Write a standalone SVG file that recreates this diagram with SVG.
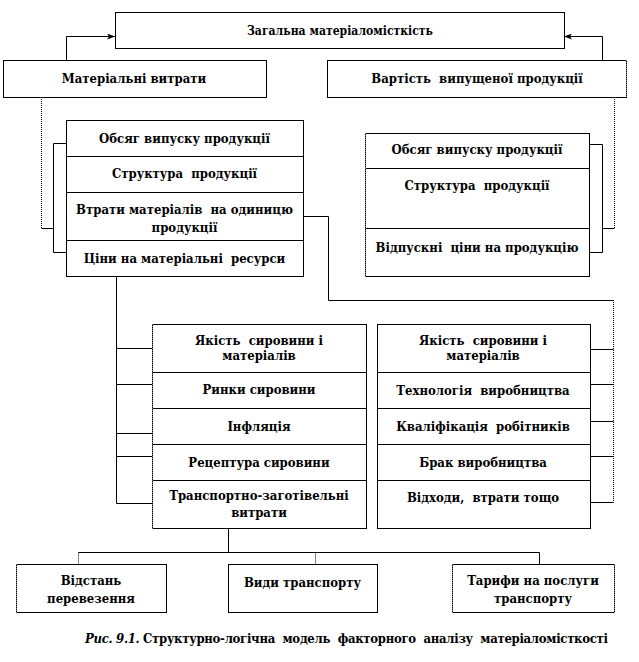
<svg xmlns="http://www.w3.org/2000/svg" width="639" height="662" viewBox="0 0 639 662">
<style>
.box{fill:#fff;stroke:#000;stroke-width:1}
.t{font-family:'DejaVu Serif Condensed','DejaVu Serif',serif;font-weight:bold;font-size:13px;text-anchor:middle;fill:#000;white-space:pre}
.ln{fill:none;stroke:#000;stroke-width:1}
.dot{fill:none;stroke:#000;stroke-width:1;stroke-dasharray:1 1}
.ged{fill:none;stroke:#777;stroke-width:1;stroke-dasharray:1 1}
.cap{font-family:'DejaVu Serif Condensed','DejaVu Serif',serif;font-size:13px;font-weight:bold;fill:#000;white-space:pre}
</style>
<defs>
<marker id="ah" markerWidth="8" markerHeight="6" refX="8" refY="3" orient="auto" markerUnits="userSpaceOnUse">
<path d="M0,0 L8,3 L0,6 L2,3 Z" fill="#000"/>
</marker>
</defs>
<rect width="639" height="662" fill="#fff"/>
<g id="connectors">
<path class="ln" d="M66.5,60 V36.5 H115" marker-end="url(#ah)"/>
<path class="ln" d="M602.5,60 V36.5 H564" marker-end="url(#ah)"/>
<path class="dot" d="M41.5,97 V228.5"/>
<path class="ln" d="M41.5,228.5 H53.5"/>
<path class="ln" d="M66,143.5 H53.5 V252.5 H66"/>
<path class="dot" d="M614.5,97 V228.5"/>
<path class="ln" d="M614.5,228.5 H602.5"/>
<path class="ln" d="M589,144.5 H602.5 V252.5 H589"/>
<path class="ln" d="M303,216.5 H328.5 V300.5 H613.5"/>
<path class="dot" d="M613.5,300 V502.5"/>
<path class="ln" d="M590,349.5 H613.5 M590,384.5 H613.5 M590,421.5 H613.5 M590,456.5 H613.5 M590,502.5 H613.5"/>
<path class="ln" d="M116.5,276 V503.5"/>
<path class="ln" d="M116.5,348.5 H152 M116.5,384.5 H152 M116.5,433.5 H152 M116.5,456.5 H152 M116.5,503.5 H152"/>
<path class="ln" d="M228.5,528 V552.5 M78.5,552.5 H539.5 V564"/>
<path class="dot" d="M78.5,552.5 V564 M315.5,552.5 V564"/>
</g>
<g id="n-top"><rect class="box" x="115.5" y="12.5" width="449" height="36"/><text class="t" x="340" y="35" textLength="186" lengthAdjust="spacingAndGlyphs">Загальна матеріаломісткість</text></g>
<g id="n-mat"><rect class="box" x="3.5" y="60.5" width="263" height="37"/><text class="t" x="134" y="83">Матеріальні витрати</text></g>
<g id="n-vart"><rect class="box" x="327.5" y="60.5" width="299" height="37"/><line class="ged" x1="626.5" y1="60" x2="626.5" y2="98"/><text class="t" x="477" y="83">Вартість  випущеної продукції</text></g>

<g id="l-obsyag"><rect class="box" x="66.5" y="120.5" width="237" height="36"/><text class="t" x="184.5" y="143">Обсяг випуску продукції</text></g>
<g id="l-struct"><rect class="box" x="66.5" y="156.5" width="237" height="36"/><text class="t" x="184.5" y="178">Структура  продукції</text></g>
<g id="l-vtraty"><rect class="box" x="66.5" y="192.5" width="237" height="48"/><text class="t" x="184.5" y="214">Втрати матеріалів  на одиницю</text><text class="t" x="184.5" y="232">продукції</text></g>
<g id="l-tsiny"><rect class="box" x="66.5" y="240.5" width="237" height="36"/><text class="t" x="184.5" y="263">Ціни на матеріальні  ресурси</text></g>

<g id="r-obsyag"><rect class="box" x="365.5" y="133.5" width="224" height="35"/><line class="ged" x1="365.5" y1="133" x2="365.5" y2="168"/><text class="t" x="477" y="154">Обсяг випуску продукції</text></g>
<g id="r-struct"><rect class="box" x="365.5" y="168.5" width="224" height="60"/><line class="ged" x1="365.5" y1="168" x2="365.5" y2="228"/><text class="t" x="477" y="190">Структура  продукції</text></g>
<g id="r-tsiny"><rect class="box" x="365.5" y="228.5" width="224" height="48"/><line class="ged" x1="365.5" y1="228" x2="365.5" y2="277"/><text class="t" x="477" y="252">Відпускні  ціни на продукцію</text></g>

<g id="m-yakist"><rect class="box" x="152.5" y="324.5" width="214" height="48"/><line class="ged" x1="152.5" y1="324" x2="152.5" y2="372"/><text class="t" x="259" y="345">Якість  сировини і</text><text class="t" x="259" y="360">матеріалів</text></g>
<g id="m-rynky"><rect class="box" x="152.5" y="372.5" width="214" height="36"/><line class="ged" x1="152.5" y1="372" x2="152.5" y2="408"/><text class="t" x="259" y="394">Ринки сировини</text></g>
<g id="m-infl"><rect class="box" x="152.5" y="408.5" width="214" height="36"/><line class="ged" x1="152.5" y1="408" x2="152.5" y2="444"/><text class="t" x="259" y="431">Інфляція</text></g>
<g id="m-retsept"><rect class="box" x="152.5" y="444.5" width="214" height="36"/><line class="ged" x1="152.5" y1="444" x2="152.5" y2="480"/><text class="t" x="259" y="467">Рецептура сировини</text></g>
<g id="m-transp"><rect class="box" x="152.5" y="480.5" width="214" height="48"/><line class="ged" x1="152.5" y1="480" x2="152.5" y2="529"/><text class="t" x="259" y="500">Транспортно-заготівельні</text><text class="t" x="259" y="517">витрати</text></g>

<g id="p-yakist"><rect class="box" x="377.5" y="324.5" width="213" height="48"/><text class="t" x="483" y="345">Якість  сировини і</text><text class="t" x="483" y="360">матеріалів</text></g>
<g id="p-tekhn"><rect class="box" x="377.5" y="372.5" width="213" height="36"/><text class="t" x="483" y="395">Технологія  виробництва</text></g>
<g id="p-kval"><rect class="box" x="377.5" y="408.5" width="213" height="36"/><text class="t" x="483" y="431">Кваліфікація  робітників</text></g>
<g id="p-brak"><rect class="box" x="377.5" y="444.5" width="213" height="36"/><text class="t" x="483" y="467">Брак виробництва</text></g>
<g id="p-vidkh"><rect class="box" x="377.5" y="480.5" width="213" height="48"/><text class="t" x="483" y="502">Відходи,  втрати тощо</text></g>

<g id="b-vidstan"><rect class="box" x="16.5" y="564.5" width="150" height="48"/><line class="ged" x1="16.5" y1="564" x2="16.5" y2="613"/><text class="t" x="91" y="585">Відстань</text><text class="t" x="91" y="603">перевезення</text></g>
<g id="b-vydy"><rect class="box" x="228.5" y="564.5" width="149" height="48"/><text class="t" x="302.5" y="587">Види транспорту</text></g>
<g id="b-taryfy"><rect class="box" x="452.5" y="564.5" width="162" height="48"/><line class="ged" x1="452.5" y1="564" x2="452.5" y2="613"/><line class="ged" x1="614.5" y1="564" x2="614.5" y2="613"/><text class="t" x="533" y="585">Тарифи на послуги</text><text class="t" x="533" y="603">транспорту</text></g>

<text class="cap" x="85" y="643" textLength="523" lengthAdjust="spacing"><tspan font-style="italic">Рис. 9.1.</tspan> Структурно-логічна  модель  факторного  аналізу  матеріаломісткості</text>
</svg>
